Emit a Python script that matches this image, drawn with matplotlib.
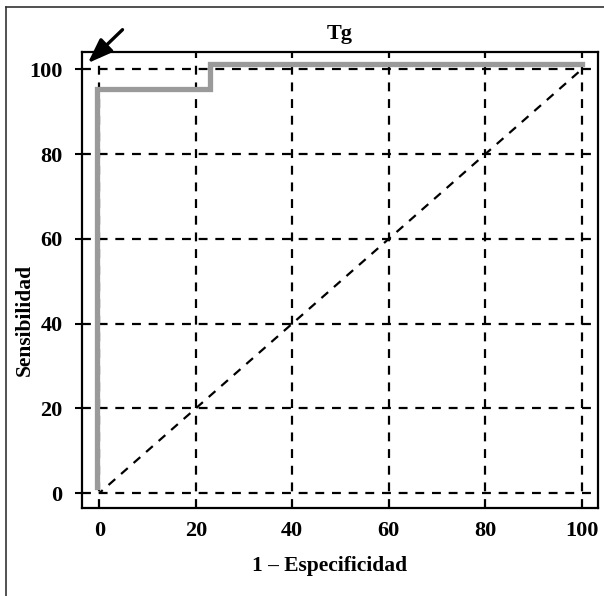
import matplotlib
matplotlib.use("Agg")
import matplotlib.pyplot as plt
from matplotlib.lines import Line2D

# Data
roc_x = [-0.5, -0.5, 23, 23, 100]
roc_y = [1.5, 95.3, 95.3, 101.4, 101.4]
diag_x = [0, 100]
diag_y = [0, 100]
ticks = [0, 20, 40, 60, 80, 100]
tick_labels = ["0", "20", "40", "60", "80", "100"]
title = "Tg"
xlabel = "1 – Especificidad"
ylabel = "Sensibilidad"

plt.rcParams['font.family'] = ['Liberation Serif', 'DejaVu Serif']
plt.rcParams['font.weight'] = 'bold'

fig = plt.figure(figsize=(6.04, 5.96), dpi=100)
ax = fig.add_axes([82/604, 1-508.3/596, (598-82)/604, (508.3-51.7)/596])

ax.set_xlim(-3.6, 103.4)
ax.set_ylim(-3.6, 104.2)

for t in ticks:
    ax.axvline(t, color='black', lw=1.6, ls=(0, (4, 3.5)), zorder=1)
    ax.axhline(t, color='black', lw=1.6, ls=(0, (4, 3.5)), zorder=1)

ax.plot(diag_x, diag_y, color='black', lw=1.6, ls=(2, (4, 3.5)), zorder=2)
ax.plot(roc_x, roc_y, color='#9a9a9a', lw=3.8, solid_joinstyle='miter', zorder=3)

ax.annotate('', xy=(-2.4, 101.5), xytext=(4.8, 109.4),
            arrowprops=dict(arrowstyle='-|>,head_length=1.5,head_width=0.55',
                            color='black', lw=2.4, shrinkA=0, shrinkB=0),
            annotation_clip=False)

ax.set_xticks(ticks)
ax.set_xticklabels(tick_labels)
ax.set_yticks(ticks)
ax.set_yticklabels(tick_labels)
ax.tick_params(axis='y', direction='out', length=5, width=1.5, pad=9, labelsize=16)
ax.tick_params(axis='x', length=0, pad=9, labelsize=16)
for s in ax.spines.values():
    s.set_linewidth(1.6)

ax.set_title(title, fontsize=16, fontweight='bold', pad=9)
ax.set_xlabel(xlabel, fontsize=15.5, fontweight='bold')
ax.set_ylabel(ylabel, fontsize=15.5, fontweight='bold')
ax.xaxis.set_label_coords(0.48, -0.105)
ax.yaxis.set_label_coords(-0.092, 0.412)

# outer frame (left and top)
fig.add_artist(Line2D([6/604, 6/604], [0, 1-7/596], transform=fig.transFigure, color='#333333', lw=1.2))
fig.add_artist(Line2D([6/604, 1], [1-7/596, 1-7/596], transform=fig.transFigure, color='#333333', lw=1.2))

fig.savefig('out.png', dpi=100)
